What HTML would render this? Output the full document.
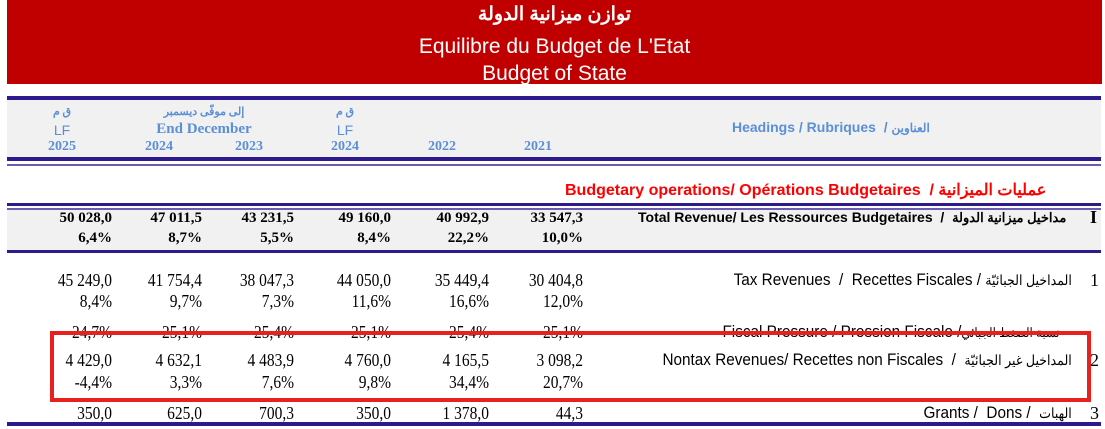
<!DOCTYPE html>
<html><head><meta charset="utf-8"><style>
*{margin:0;padding:0;box-sizing:border-box}
body{width:1105px;height:429px;background:#fff;position:relative;overflow:hidden;font-family:"Liberation Sans","Noto Sans CJK SC",sans-serif}
.a{position:absolute}
.line{position:absolute;left:7px;width:1094px;background:#2e1a8c}
.thin{background:#6a5cb0}
.hd{position:absolute;color:#5b8fd6;font-family:"Liberation Serif",serif;font-weight:bold;font-size:14px;text-align:center;width:80px}
.bn{position:absolute;font-family:"Liberation Serif",serif;font-weight:bold;font-size:15px;text-align:right;width:100px}
.nn{position:absolute;font-family:"Liberation Serif",serif;font-size:18px;text-align:right;width:100px;transform:scaleX(0.86);transform-origin:right center}
.lb{position:absolute;right:33px;font-size:17px;white-space:nowrap;transform:scaleX(0.9);transform-origin:right center}
.num{position:absolute;left:1090px;font-family:"Liberation Serif",serif;font-size:18px;font-weight:bold}
</style></head><body>
<div class="a" style="left:7px;top:0;width:1095px;height:84px;background:#c00000;color:#fff;text-align:center">
<div style="position:absolute;top:3px;width:100%;font-size:19px;font-weight:bold">توازن ميزانية الدولة</div>
<div style="position:absolute;top:35px;width:100%;font-size:21px">Equilibre du Budget de L'Etat</div>
<div style="position:absolute;top:62px;width:100%;font-size:21px">Budget of State</div>
</div>
<div class="line" style="top:96px;height:4px"></div>
<div class="a" style="left:7px;top:100px;width:1094px;height:57px;background:#f1f1f1"></div>
<div class="line" style="top:157px;height:4px"></div>
<div class="line thin" style="top:164px;height:2px"></div>

<div class="hd" style="left:22px;top:105px;font-size:11px">ق م</div>
<div class="hd" style="left:22px;top:122px;font-family:'Liberation Sans';font-weight:normal">LF</div>
<div class="hd" style="left:22px;top:139px">2025</div>
<div class="hd" style="left:134px;top:105px;width:140px;font-size:11px">إلى موفّى ديسمبر</div>
<div class="hd" style="left:134px;top:121px;width:140px;font-size:15px">End December</div>
<div class="hd" style="left:119px;top:139px">2024</div>
<div class="hd" style="left:209px;top:139px">2023</div>
<div class="hd" style="left:305px;top:105px;font-size:11px">ق م</div>
<div class="hd" style="left:305px;top:122px;font-family:'Liberation Sans';font-weight:normal">LF</div>
<div class="hd" style="left:305px;top:139px">2024</div>
<div class="hd" style="left:402px;top:139px">2022</div>
<div class="hd" style="left:498px;top:139px">2021</div>
<div class="a" style="left:732px;top:119px;color:#5b8fd6;font-size:14px;font-weight:bold">Headings / Rubriques &nbsp;/ <span style="font-size:12px">العناوين</span></div>

<div class="a" style="left:565px;top:180px;color:#f00;font-size:16px;font-weight:bold;white-space:nowrap">Budgetary operations/ Opérations Budgetaires &nbsp;/ <span style="font-size:16px">عمليات الميزانية</span></div>

<div class="line" style="top:203px;height:3px"></div>
<div class="line thin" style="top:208px;height:2px"></div>
<div class="a" style="left:7px;top:210px;width:1094px;height:40px;background:#f1f1f1"></div>
<div class="line" style="top:250px;height:3px"></div>

<div id="rows"></div>

<div class="a" style="left:638px;top:209px;font-size:14px;font-weight:bold;white-space:nowrap">Total Revenue/ Les Ressources Budgetaires &nbsp;/ &nbsp;<span style="font-size:13px">مداخيل ميزانية الدولة</span></div>
<div class="num" style="top:207px">I</div>

<div class="lb" style="top:270px">Tax Revenues &nbsp;/ &nbsp;Recettes Fiscales / <span style="font-size:14px">المداخيل الجبائيّة</span></div>
<div class="num" style="top:270px;font-weight:normal">1</div>
<div class="lb" style="top:322px;right:45px">Fiscal Pressure / Pression Fiscale /<span style="font-size:13px">نسبة الضغط الجبائي</span></div>
<div class="lb" style="top:350px">Nontax Revenues/ Recettes non Fiscales &nbsp;/ &nbsp;<span style="font-size:14px">المداخيل غير الجبائيّة</span></div>
<div class="num" style="top:350px;font-weight:normal">2</div>
<div class="lb" style="top:403px">Grants / &nbsp;Dons / &nbsp;<span style="font-size:14px">الهبات</span></div>
<div class="num" style="top:403px;font-weight:normal">3</div>

<div class="a" style="left:50px;top:331px;width:1041px;height:71px;border:4px solid #e8201e"></div>
<div class="line" style="top:422px;height:4px"></div>

<script>
const colRight=[112,202,294,391,489,583];
const totalVals=["50 028,0","47 011,5","43 231,5","49 160,0","40 992,9","33 547,3"];
const totalPct=["6,4%","8,7%","5,5%","8,4%","22,2%","10,0%"];
const taxVals=["45 249,0","41 754,4","38 047,3","44 050,0","35 449,4","30 404,8"];
const taxPct=["8,4%","9,7%","7,3%","11,6%","16,6%","12,0%"];
const pressure=["24,7%","25,1%","25,4%","25,1%","25,4%","25,1%"];
const nontaxVals=["4 429,0","4 632,1","4 483,9","4 760,0","4 165,5","3 098,2"];
const nontaxPct=["-4,4%","3,3%","7,6%","9,8%","34,4%","20,7%"];
const grants=["350,0","625,0","700,3","350,0","1 378,0","44,3"];
const root=document.getElementById('rows');
function row(arr,top,cls,name){
 arr.forEach((v,i)=>{
  const d=document.createElement('div');
  d.className=cls;
  d.style.left=(colRight[i]-100)+'px';
  d.style.top=top+'px';
  d.textContent=v;
  
  
  root.appendChild(d);
 });
}
row(totalVals,210,'bn','total-value');
row(totalPct,230,'bn','total-pct');
row(taxVals,270,'nn','tax-value');
row(taxPct,291,'nn','tax-pct');
row(pressure,322,'nn','pressure-value');
row(nontaxVals,350,'nn','nontax-value');
row(nontaxPct,372,'nn','nontax-pct');
row(grants,403,'nn','grants-value');
</script>
</body></html>
